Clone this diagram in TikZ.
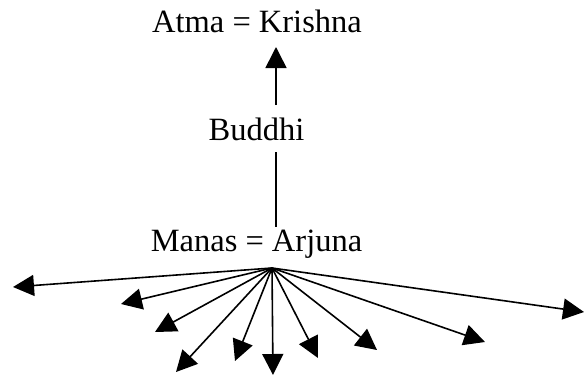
\documentclass[tikz,border=0pt]{standalone}
\usepackage{fontspec}
\setmainfont{Liberation Serif}
\usetikzlibrary{arrows.meta}
\tikzset{
    spoke/.style={line width=1.6pt, -{Triangle[length=21pt, width=21pt]}},
    label/.style={inner sep=0pt, anchor=base, font=\fontsize{32.5}{38}\selectfont}
}
\begin{document}
\begin{tikzpicture}[x=1pt, y=-1pt]
    \useasboundingbox (0,0) rectangle (584,376);
    % the three levels
    \node[label] (atma) at (257,32) {Atma = Krishna};
    \node[label] (buddhi) at (256.5,140) {Buddhi};
    \node[label] (manas) at (256.5,251) {Manas = Arjuna};
    \coordinate (b1) at (276,105);
    \coordinate (b2) at (276,47);
    \coordinate (c1) at (276,152);
    \coordinate (c2) at (276,227);
    \draw[spoke] (b1) -- (b2);
    \draw[line width=1.6pt] (c1) -- (c2);
    % the fan below Manas
    \coordinate (o) at (272,268);
    \coordinate (t1) at (13,287);
    \coordinate (t2) at (121,304);
    \coordinate (t3) at (155,332);
    \coordinate (t4) at (176,372);
    \coordinate (t5) at (235,361);
    \coordinate (t6) at (273,375);
    \coordinate (t7) at (318,358);
    \coordinate (t8) at (377,350);
    \coordinate (t9) at (485,342);
    \coordinate (t10) at (584,312);
    \foreach \s in {1,...,10}{
    \draw[spoke] (o) -- (t\s);}
\end{tikzpicture}
\end{document}
